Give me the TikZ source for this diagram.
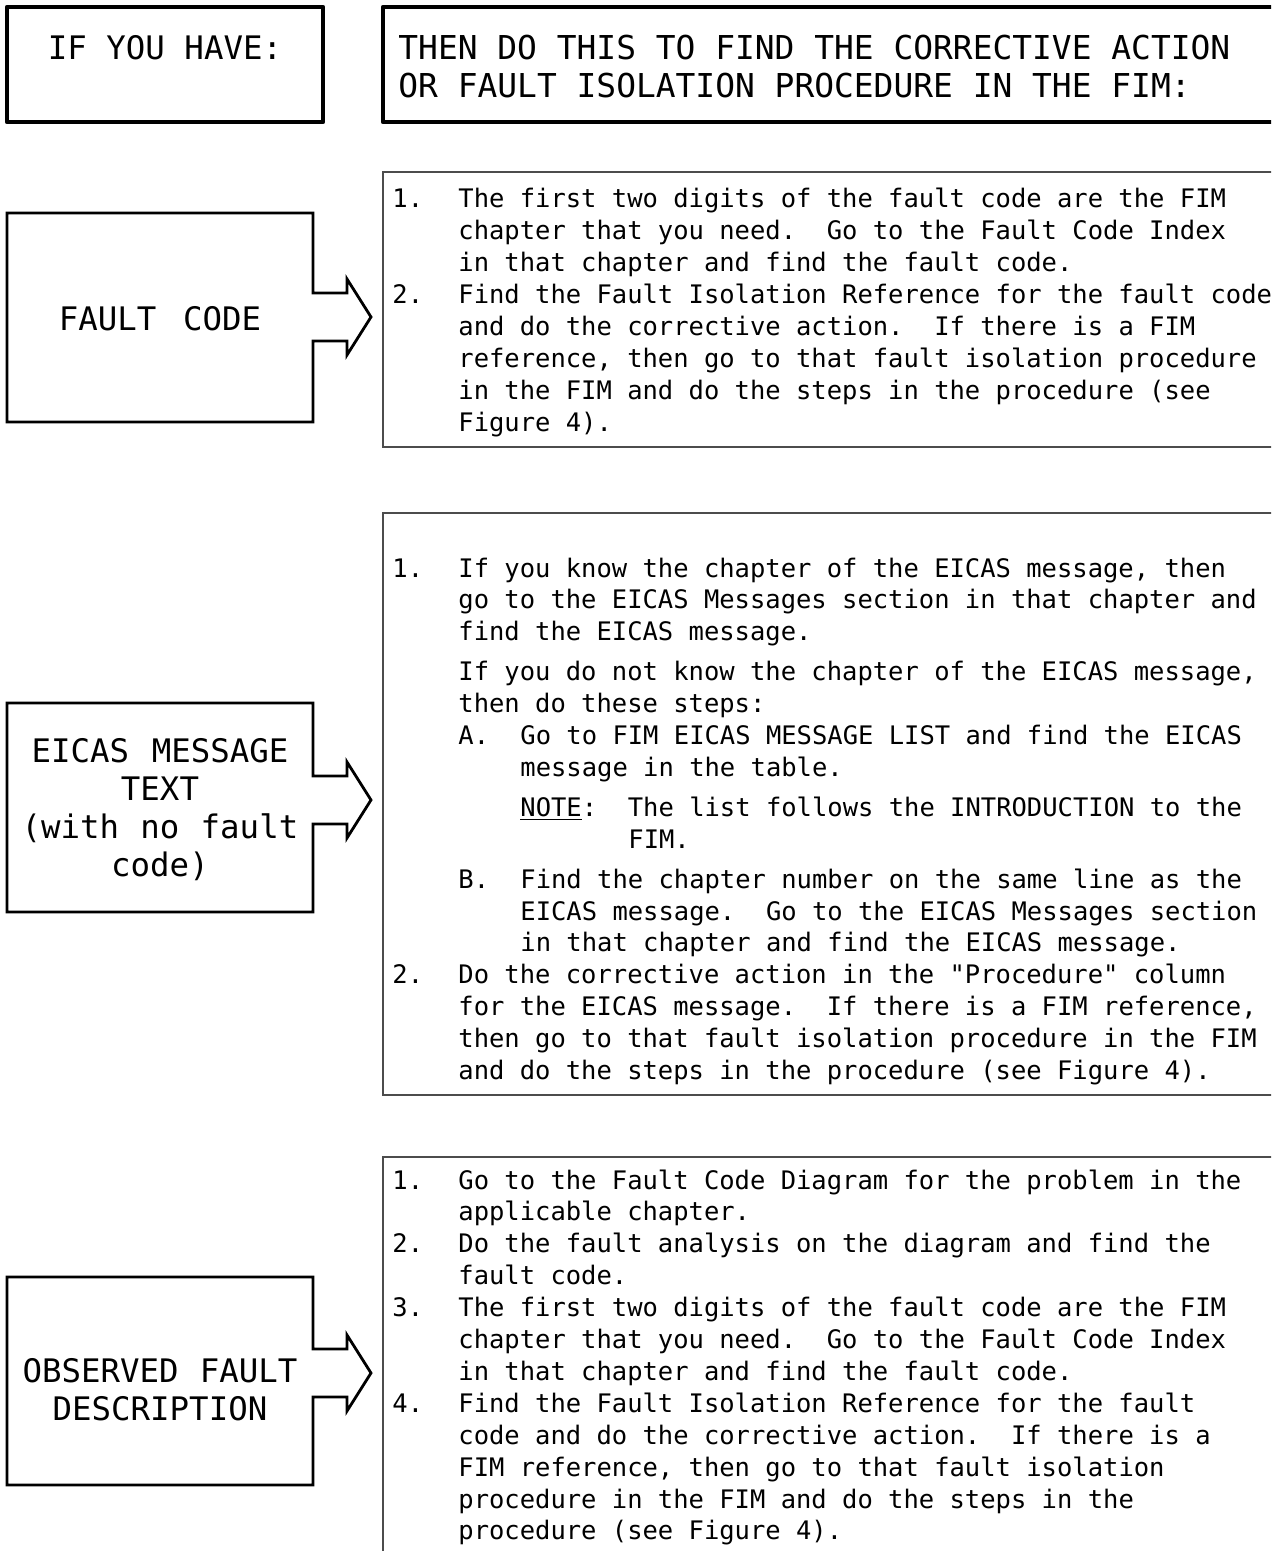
\documentclass[tikz,border=0pt]{standalone}
\usepackage{fontspec}
\usepackage{tikz}
\newfontfamily\monofont{DejaVu Sans Mono}
\newcommand{\bodyfont}{\monofont\fontsize{12.75}{15.95}\selectfont}
\newcommand{\headfont}{\monofont\fontsize{16.2}{19}\selectfont}
\newcommand{\titlefont}{\monofont\fontsize{16.45}{19}\selectfont}
% hanging numbers and indents for the step lists
\newcommand{\itemno}[1]{\leavevmode\llap{\makebox[33pt][l]{#1}}}
\newcommand{\subno}[1]{\leavevmode\hspace*{31pt}\llap{\makebox[31pt][l]{#1}}}
\newcommand{\subin}{\leavevmode\hspace*{31pt}}
\newcommand{\notein}{\leavevmode\hspace*{85pt}}
\newcommand{\fullspace}{\spaceskip=0pt\relax\xspaceskip=0pt\relax}
% left box with the arrow notch: top, bottom, tip
\newcommand{\notchbox}[3]{%
  \draw[havebox] (7,#1) -- (313,#1) -- (313,#3-24) -- (347,#3-24) -- (347,#3-38)
    -- (371,#3) -- (347,#3+38) -- (347,#3+24) -- (313,#3+24) -- (313,#2)
    -- (7,#2) -- cycle;}
\frenchspacing

\begin{document}
\begin{tikzpicture}[
  x=0.5pt, y=-0.5pt,
  headbox/.style={draw=black, line width=2.2pt, line join=round},
  havebox/.style={draw=black, line width=1.4pt, line join=miter},
  stepbox/.style={draw=black!70, line width=0.9pt},
  headtext/.style={font=\headfont, inner sep=0pt, anchor=base, execute at begin node=\fullspace},
  havetext/.style={font=\headfont, inner sep=0pt, text width=150pt, align=center, anchor=base,
    execute at begin node=\fullspace},
  steptext/.style={font=\bodyfont, inner sep=0pt, text width=430pt, align=left, anchor=base west,
    execute at begin node=\fullspace}
]
  \useasboundingbox (0,0) rectangle (1271,1551);
  \clip (0,0) rectangle (1271,1551);

  % headings
  \draw[headbox] (7,7) rectangle (323,122);
  \draw[headbox] (383,7) rectangle (1290,122);
  \node[headtext] (have) at (165,60) {IF YOU HAVE:};
  \node[headtext, font=\titlefont, anchor=base west, text width=440pt, align=left] (then) at (398,60)
    {THEN DO THIS TO FIND THE CORRECTIVE ACTION\\OR FAULT ISOLATION PROCEDURE IN THE FIM:};

  % fault code
  \notchbox{213}{422}{317}
  \node[havetext] (fc) at (160,330) {FAULT CODE};
  \draw[stepbox] (383,172) rectangle (1290,447);
  \node[steptext] (fcsteps) at (458,208) {%
    \itemno{1.}The first two digits of the fault code are the FIM\\
    chapter that you need.~~Go to the Fault Code Index\\
    in that chapter and find the fault code.\\
    \itemno{2.}Find the Fault Isolation Reference for the fault code\\
    and do the corrective action.~~If there is a FIM\\
    reference, then go to that fault isolation procedure\\
    in the FIM and do the steps in the procedure (see\\
    Figure 4).};

  % eicas message
  \notchbox{703}{912}{800}
  \node[havetext] (eicas) at (160,762) {EICAS MESSAGE\\TEXT\\(with no fault\\code)};
  \draw[stepbox] (383,513) rectangle (1290,1095);
  \node[steptext] (eicassteps) at (458,577) {%
    \itemno{1.}If you know the chapter of the EICAS message, then\\
    go to the EICAS Messages section in that chapter and\\
    find the EICAS message.\\[4pt]
    If you do not know the chapter of the EICAS message,\\
    then do these steps:\\
    \subno{A.}Go to FIM EICAS MESSAGE LIST and find the EICAS\\
    \subin message in the table.\\[4pt]
    \subin\underline{NOTE}:~~The list follows the INTRODUCTION to the\\
    \notein FIM.\\[4pt]
    \subno{B.}Find the chapter number on the same line as the\\
    \subin EICAS message.~~Go to the EICAS Messages section\\
    \subin in that chapter and find the EICAS message.\\
    \itemno{2.}Do the corrective action in the "Procedure" column\\
    for the EICAS message.~~If there is a FIM reference,\\
    then go to that fault isolation procedure in the FIM\\
    and do the steps in the procedure (see Figure 4).};

  % observed fault
  \notchbox{1277}{1485}{1373}
  \node[havetext] (obs) at (160,1382) {OBSERVED FAULT\\DESCRIPTION};
  \draw[stepbox] (383,1157) rectangle (1290,1600);
  \node[steptext] (obssteps) at (458,1189) {%
    \itemno{1.}Go to the Fault Code Diagram for the problem in the\\
    applicable chapter.\\
    \itemno{2.}Do the fault analysis on the diagram and find the\\
    fault code.\\
    \itemno{3.}The first two digits of the fault code are the FIM\\
    chapter that you need.~~Go to the Fault Code Index\\
    in that chapter and find the fault code.\\
    \itemno{4.}Find the Fault Isolation Reference for the fault\\
    code and do the corrective action.~~If there is a\\
    FIM reference, then go to that fault isolation\\
    procedure in the FIM and do the steps in the\\
    procedure (see Figure 4).};
\end{tikzpicture}
\end{document}
